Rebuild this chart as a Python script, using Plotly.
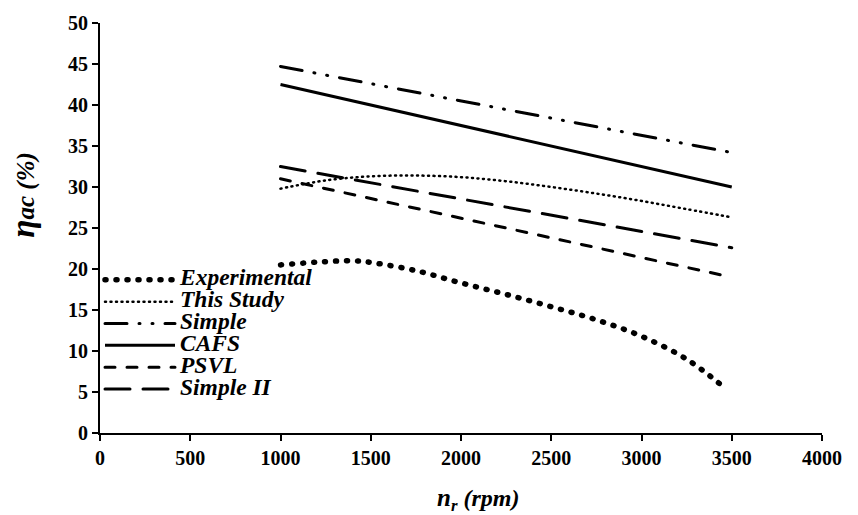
import plotly.graph_objects as go

# Data
x_lin = [1000, 3500]
simple = [44.7, 34.2]
cafs = [42.5, 30.0]
psvl = [31.0, 19.0]
simple2_x = [1000, 3500]
simple2 = [32.5, 22.6]

study_x = [1000, 1250, 1500, 1750, 2000, 2250, 2500, 2750, 3000, 3250, 3500]
study = [29.8, 30.8, 31.3, 31.4, 31.2, 30.7, 30.0, 29.2, 28.3, 27.3, 26.3]

exp_x = [1000, 1250, 1400, 1500, 1750, 2000, 2250, 2500, 2750, 3000, 3250, 3450]
exp_y = [20.5, 20.9, 21.0, 20.8, 19.8, 18.3, 16.9, 15.4, 13.8, 11.8, 9.0, 5.7]

series_names = ["Experimental", "This Study", "Simple", "CAFS", "PSVL", "Simple II"]

x_ticks = [0, 500, 1000, 1500, 2000, 2500, 3000, 3500, 4000]
y_ticks = [0, 5, 10, 15, 20, 25, 30, 35, 40, 45, 50]

FONT = "Liberation Serif"


def lname(s):
    return f"<span style='font-size:23.5px'><b><i>{s}</i></b></span>"


fig = go.Figure()
fig.add_trace(go.Scatter(x=exp_x, y=exp_y, mode="lines", name=lname(series_names[0]),
                         line=dict(color="black", width=5.5, dash="1px,10px", shape="spline")))
fig.add_trace(go.Scatter(x=study_x, y=study, mode="lines", name=lname(series_names[1]),
                         line=dict(color="black", width=2.5, dash="1px,4.5px", shape="spline")))
fig.add_trace(go.Scatter(x=x_lin, y=simple, mode="lines", name=lname(series_names[2]),
                         line=dict(color="black", width=3, dash="22px,12px,1px,12px,1px,12px")))
fig.add_trace(go.Scatter(x=x_lin, y=cafs, mode="lines", name=lname(series_names[3]),
                         line=dict(color="black", width=3)))
fig.add_trace(go.Scatter(x=x_lin, y=psvl, mode="lines", name=lname(series_names[4]),
                         line=dict(color="black", width=3, dash="10px,12px")))
fig.add_trace(go.Scatter(x=simple2_x, y=simple2, mode="lines", name=lname(series_names[5]),
                         line=dict(color="black", width=3, dash="25px,13px")))

fig.update_layout(
    width=858, height=515,
    margin=dict(l=100, r=36, t=19, b=82),
    plot_bgcolor="white", paper_bgcolor="white",
    font=dict(family=FONT, size=16, color="black"),
    showlegend=True,
    legend=dict(x=0.0, y=0.4125, xanchor="left", yanchor="top",
                bgcolor="rgba(0,0,0,0)", font=dict(family=FONT, size=14.5),
                itemwidth=70, tracegroupgap=0),
    xaxis=dict(range=[0, 4000], tickvals=x_ticks, ticktext=[f"<b>{v}</b>" for v in x_ticks],
               showgrid=False, zeroline=False, showline=True, linecolor="black", linewidth=2,
               ticks="outside", ticklen=6, tickwidth=2, tickcolor="black",
               tickfont=dict(family=FONT, size=20)),
    yaxis=dict(range=[0, 50], tickvals=y_ticks, ticktext=[f"<b>{v}</b>" for v in y_ticks],
               showgrid=False, zeroline=False, showline=True, linecolor="black", linewidth=2,
               ticks="outside", ticklen=6, tickwidth=2, tickcolor="black",
               tickfont=dict(family=FONT, size=20)),
    annotations=[
        dict(text="<b><i><span style='font-size:25px'>n</span><sub>r</sub><span style='font-size:24px'> (rpm)</span></i></b>",
             xref="paper", yref="paper", x=0.5235, y=-0.163, xanchor="center", yanchor="middle",
             showarrow=False, font=dict(family=FONT, size=24)),
        dict(text="<b><i><span style='font-size:33px'>η</span><span style='font-size:25px'>ac (%)</span></i></b>",
             xref="paper", yref="paper", x=-0.106, y=0.58, xanchor="center", yanchor="middle",
             textangle=-90, showarrow=False, font=dict(family=FONT, size=25)),
    ],
)

post = """
var gd = document.getElementsByClassName('plotly-graph-div')[0];
function fix(){
  document.querySelectorAll('.scatterlayer .js-line, .legend .js-line').forEach(function(p){
    var d = p.style.strokeDasharray || '';
    if (d && d !== 'none') { p.style.strokeLinecap = 'round'; }
  });
}
fix();
gd.on('plotly_afterplot', fix);
"""
fig.write_html("out.html", post_script=post)
